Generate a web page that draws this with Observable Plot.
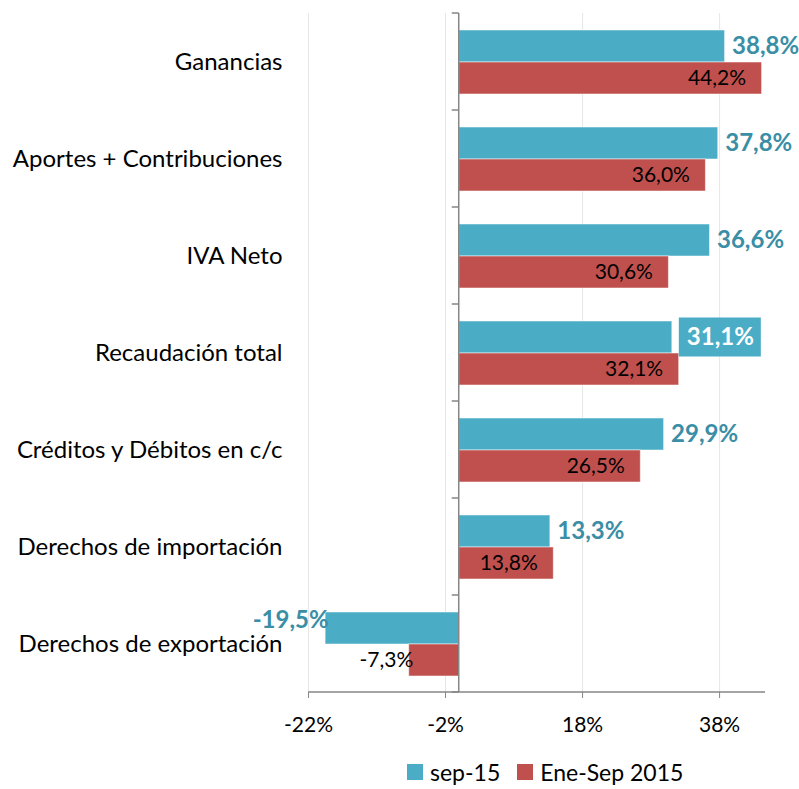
<!DOCTYPE html>
<html><head><meta charset="utf-8">
<script src="https://cdn.jsdelivr.net/npm/d3@7"></script>
<script src="https://cdn.jsdelivr.net/npm/@observablehq/plot@0.6"></script>
<style>
body{margin:0;background:#fff;font-family:Lato,"Open Sans",sans-serif}
#chart{position:relative;width:799px;height:789px}
.legend{position:absolute;left:407px;top:758px;display:flex;align-items:center;font-size:23px;color:#000;font-family:Lato,sans-serif}
.legend .sw{width:16px;height:16px;display:inline-block;margin-right:7px}
.legend .item{display:flex;align-items:center;margin-right:17px}
</style></head><body><div id="chart"></div>
<script>
const categories = ["Ganancias","Aportes + Contribuciones","IVA Neto","Recaudación total","Créditos y Débitos en c/c","Derechos de importación","Derechos de exportación"];
const series = ["sep-15","Ene-Sep 2015"];
const sep15 = [38.8, 37.8, 36.6, 31.1, 29.9, 13.3, -19.5];
const eneSep2015 = [44.2, 36.0, 30.6, 32.1, 26.5, 13.8, -7.3];
const xTicks = [-22, -2, 18, 38];
const xDomain = [-22, 44.7];
const highlighted = "Recaudación total";
const colors = ["#4BACC6", "#C0504D"];
const labelColor = "#3A8EA6";
const axisColor = "#868686";

const data = categories.flatMap((c, i) => [
  {category: c, series: series[0], value: sep15[i]},
  {category: c, series: series[1], value: eneSep2015[i]}
]);
const fmt = v => v.toFixed(1).replace(".", ",") + "%";
const blue = data.filter(d => d.series === series[0]);
const red = data.filter(d => d.series === series[1]);

const common = {fy: "category", y: "series"};
const plot = Plot.plot({
  width: 799, height: 750,
  marginTop: 13, marginBottom: 58, marginLeft: 308, marginRight: 34,
  style: {fontFamily: "Lato, sans-serif", fontSize: "20px", color: "#000", background: "transparent", overflow: "visible"},
  x: {domain: xDomain, ticks: xTicks, tickFormat: d => `${d}%`, label: null},
  fy: {domain: categories, padding: 0, label: null},
  y: {domain: series, paddingInner: 0, paddingOuter: 0.47, axis: null},
  color: {domain: series, range: colors},
  marks: [
    Plot.gridX(xTicks, {stroke: "#e6e6e6", strokeOpacity: 1}),
    Plot.barX(data, {...common, x1: 0, x2: "value", fill: "series", stroke: "#fff", strokeOpacity: 0.5, strokeWidth: 1}),
    Plot.barX(blue.filter(d => d.category === highlighted), {...common, x1: "value", x2: "value", insetLeft: -41, insetRight: -41, insetTop: -3.5, insetBottom: -3.5, dx: 48, fill: colors[0]}),
    Plot.text(blue.filter(d => d.value >= 0 && d.category !== highlighted), {...common, x: "value", text: d => fmt(d.value), textAnchor: "start", dx: 7, fill: labelColor, fontWeight: "bold", fontSize: 24}),
    Plot.text(blue.filter(d => d.value < 0), {...common, x: "value", text: d => fmt(d.value), textAnchor: "end", dx: 3, dy: -8, fill: labelColor, fontWeight: "bold", fontSize: 24}),
    Plot.text(blue.filter(d => d.category === highlighted), {...common, x: "value", text: d => fmt(d.value), textAnchor: "middle", dx: 48, fill: "#fff", fontWeight: "bold", fontSize: 24}),
    Plot.text(red.filter(d => d.value >= 0), {...common, x: "value", text: d => fmt(d.value), textAnchor: "end", dx: -16, fill: "#000", fontSize: 21}),
    Plot.text(red.filter(d => d.value < 0), {...common, x: "value", text: d => fmt(d.value), textAnchor: "end", dx: 4, fill: "#000", fontSize: 21}),
    Plot.axisX(xTicks, {tickFormat: d => `${d}%`, tickSize: 6, tickPadding: 19, stroke: axisColor, fill: "#000", fontSize: 21, label: null}),
    Plot.axisFy({anchor: "left", tickSize: 0, tickPadding: 26, fontSize: 24, fill: "#000", label: null})
  ]
});

// axis lines and category boundary ticks, positioned with the plot's scales
const sx = plot.scale("x"), sfy = plot.scale("fy");
const x0 = sx.apply(0);
const yTop = sfy.apply(categories[0]);
const yStep = sfy.step;
const yBottom = yTop + yStep * categories.length;
const g = d3.select(plot).append("g").attr("stroke", axisColor).attr("stroke-width", 1.5);
g.append("line").attr("x1", sx.apply(xDomain[0])).attr("x2", sx.apply(xDomain[1])).attr("y1", yBottom).attr("y2", yBottom);
g.append("line").attr("x1", x0).attr("x2", x0).attr("y1", yTop).attr("y2", yBottom);
d3.range(categories.length + 1).forEach(k => {
  const y = yTop + k * yStep;
  g.append("line").attr("x1", x0 - 7).attr("x2", x0).attr("y1", y).attr("y2", y);
});

const chart = document.getElementById("chart");
chart.appendChild(plot);
const legend = document.createElement("div");
legend.className = "legend";
legend.innerHTML = series.map((s, i) => `<span class="item"><span class="sw" style="background:${colors[i]}"></span>${s}</span>`).join("");
chart.appendChild(legend);
</script></body></html>
